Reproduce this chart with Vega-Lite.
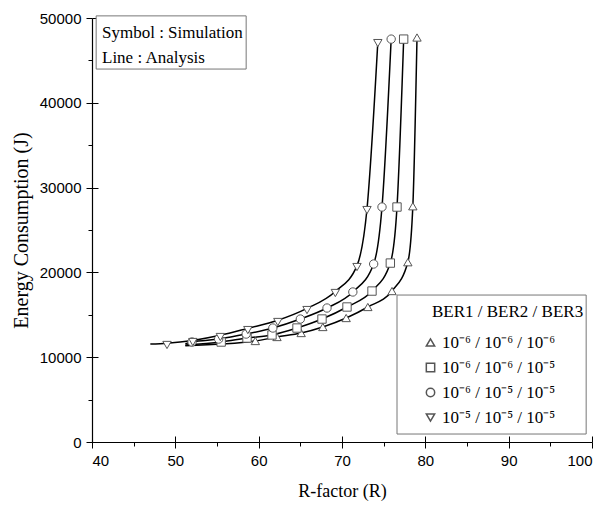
{
  "$schema": "https://vega.github.io/schema/vega-lite/v6.json",
  "width": 500,
  "height": 424,
  "autosize": {"type": "none"},
  "padding": {"left": 92, "top": 18, "right": 14, "bottom": 68},
  "background": "white",
  "config": {
    "view": {"stroke": null},
    "axis": {
      "labelFont": "Liberation Sans",
      "labelFontSize": 15,
      "labelColor": "black",
      "titleFont": "Liberation Serif",
      "titleFontWeight": "normal",
      "titleColor": "black",
      "domainColor": "black",
      "domainWidth": 1.2,
      "tickColor": "black",
      "tickWidth": 1,
      "grid": false
    }
  },
  "datasets": {
    "sim": [
      {"series": "10⁻⁶ / 10⁻⁶ / 10⁻⁶", "R": 59.6, "E": 11910},
      {"series": "10⁻⁶ / 10⁻⁶ / 10⁻⁶", "R": 62.2, "E": 12380},
      {"series": "10⁻⁶ / 10⁻⁶ / 10⁻⁶", "R": 65.1, "E": 12850},
      {"series": "10⁻⁶ / 10⁻⁶ / 10⁻⁶", "R": 67.7, "E": 13560},
      {"series": "10⁻⁶ / 10⁻⁶ / 10⁻⁶", "R": 70.5, "E": 14620},
      {"series": "10⁻⁶ / 10⁻⁶ / 10⁻⁶", "R": 73.1, "E": 15920},
      {"series": "10⁻⁶ / 10⁻⁶ / 10⁻⁶", "R": 76.0, "E": 17800},
      {"series": "10⁻⁶ / 10⁻⁶ / 10⁻⁶", "R": 77.9, "E": 21200},
      {"series": "10⁻⁶ / 10⁻⁶ / 10⁻⁶", "R": 78.5, "E": 27800},
      {"series": "10⁻⁶ / 10⁻⁶ / 10⁻⁶", "R": 79.0, "E": 47700},
      {"series": "10⁻⁶ / 10⁻⁶ / 10⁻⁵", "R": 55.5, "E": 11790},
      {"series": "10⁻⁶ / 10⁻⁶ / 10⁻⁵", "R": 58.6, "E": 12260},
      {"series": "10⁻⁶ / 10⁻⁶ / 10⁻⁵", "R": 61.6, "E": 12620},
      {"series": "10⁻⁶ / 10⁻⁶ / 10⁻⁵", "R": 64.6, "E": 13440},
      {"series": "10⁻⁶ / 10⁻⁶ / 10⁻⁵", "R": 67.6, "E": 14500},
      {"series": "10⁻⁶ / 10⁻⁶ / 10⁻⁵", "R": 70.6, "E": 15920},
      {"series": "10⁻⁶ / 10⁻⁶ / 10⁻⁵", "R": 73.6, "E": 17800},
      {"series": "10⁻⁶ / 10⁻⁶ / 10⁻⁵", "R": 75.8, "E": 21100},
      {"series": "10⁻⁶ / 10⁻⁶ / 10⁻⁵", "R": 76.6, "E": 27710},
      {"series": "10⁻⁶ / 10⁻⁶ / 10⁻⁵", "R": 77.4, "E": 47510},
      {"series": "10⁻⁶ / 10⁻⁵ / 10⁻⁵", "R": 52.0, "E": 11790},
      {"series": "10⁻⁶ / 10⁻⁵ / 10⁻⁵", "R": 55.2, "E": 12140},
      {"series": "10⁻⁶ / 10⁻⁵ / 10⁻⁵", "R": 58.5, "E": 12730},
      {"series": "10⁻⁶ / 10⁻⁵ / 10⁻⁵", "R": 61.7, "E": 13440},
      {"series": "10⁻⁶ / 10⁻⁵ / 10⁻⁵", "R": 65.0, "E": 14500},
      {"series": "10⁻⁶ / 10⁻⁵ / 10⁻⁵", "R": 68.2, "E": 15800},
      {"series": "10⁻⁶ / 10⁻⁵ / 10⁻⁵", "R": 71.3, "E": 17690},
      {"series": "10⁻⁶ / 10⁻⁵ / 10⁻⁵", "R": 73.8, "E": 20990},
      {"series": "10⁻⁶ / 10⁻⁵ / 10⁻⁵", "R": 74.8, "E": 27710},
      {"series": "10⁻⁶ / 10⁻⁵ / 10⁻⁵", "R": 75.9, "E": 47510},
      {"series": "10⁻⁵ / 10⁻⁵ / 10⁻⁵", "R": 49.0, "E": 11440},
      {"series": "10⁻⁵ / 10⁻⁵ / 10⁻⁵", "R": 52.1, "E": 11790},
      {"series": "10⁻⁵ / 10⁻⁵ / 10⁻⁵", "R": 55.4, "E": 12380},
      {"series": "10⁻⁵ / 10⁻⁵ / 10⁻⁵", "R": 58.7, "E": 13200},
      {"series": "10⁻⁵ / 10⁻⁵ / 10⁻⁵", "R": 62.3, "E": 14150},
      {"series": "10⁻⁵ / 10⁻⁵ / 10⁻⁵", "R": 65.8, "E": 15560},
      {"series": "10⁻⁵ / 10⁻⁵ / 10⁻⁵", "R": 69.2, "E": 17570},
      {"series": "10⁻⁵ / 10⁻⁵ / 10⁻⁵", "R": 71.8, "E": 20630},
      {"series": "10⁻⁵ / 10⁻⁵ / 10⁻⁵", "R": 73.0, "E": 27350},
      {"series": "10⁻⁵ / 10⁻⁵ / 10⁻⁵", "R": 74.3, "E": 47040}
    ],
    "ana": [
      {"curve": "A", "R": 51.2, "E": 11350},
      {"curve": "A", "R": 59.6, "E": 11910},
      {"curve": "A", "R": 62.2, "E": 12380},
      {"curve": "A", "R": 65.1, "E": 12850},
      {"curve": "A", "R": 67.7, "E": 13560},
      {"curve": "A", "R": 70.5, "E": 14620},
      {"curve": "A", "R": 73.1, "E": 15920},
      {"curve": "A", "R": 76.0, "E": 17800},
      {"curve": "A", "R": 77.9, "E": 21200},
      {"curve": "A", "R": 78.5, "E": 27800},
      {"curve": "A", "R": 79.0, "E": 47700},
      {"curve": "B", "R": 51.2, "E": 11450},
      {"curve": "B", "R": 55.5, "E": 11790},
      {"curve": "B", "R": 58.6, "E": 12260},
      {"curve": "B", "R": 61.6, "E": 12620},
      {"curve": "B", "R": 64.6, "E": 13440},
      {"curve": "B", "R": 67.6, "E": 14500},
      {"curve": "B", "R": 70.6, "E": 15920},
      {"curve": "B", "R": 73.6, "E": 17800},
      {"curve": "B", "R": 75.8, "E": 21100},
      {"curve": "B", "R": 76.6, "E": 27710},
      {"curve": "B", "R": 77.4, "E": 47510},
      {"curve": "C", "R": 51.2, "E": 11600},
      {"curve": "C", "R": 52.0, "E": 11790},
      {"curve": "C", "R": 55.2, "E": 12140},
      {"curve": "C", "R": 58.5, "E": 12730},
      {"curve": "C", "R": 61.7, "E": 13440},
      {"curve": "C", "R": 65.0, "E": 14500},
      {"curve": "C", "R": 68.2, "E": 15800},
      {"curve": "C", "R": 71.3, "E": 17690},
      {"curve": "C", "R": 73.8, "E": 20990},
      {"curve": "C", "R": 74.8, "E": 27710},
      {"curve": "C", "R": 75.9, "E": 47510},
      {"curve": "D", "R": 47.0, "E": 11550},
      {"curve": "D", "R": 49.0, "E": 11650},
      {"curve": "D", "R": 52.1, "E": 11980},
      {"curve": "D", "R": 55.4, "E": 12580},
      {"curve": "D", "R": 58.7, "E": 13400},
      {"curve": "D", "R": 62.3, "E": 14350},
      {"curve": "D", "R": 65.8, "E": 15750},
      {"curve": "D", "R": 69.2, "E": 17750},
      {"curve": "D", "R": 71.8, "E": 20800},
      {"curve": "D", "R": 73.0, "E": 27500},
      {"curve": "D", "R": 74.3, "E": 47200}
    ]
  },
  "layer": [
    {
      "data": {"name": "ana"},
      "mark": {"type": "line", "color": "black", "strokeWidth": 1.5, "interpolate": "monotone"},
      "encoding": {
        "x": {
          "field": "R", "type": "quantitative",
          "scale": {"domain": [40, 100], "nice": false, "zero": false},
          "axis": {
            "orient": "bottom",
            "title": "R-factor (R)",
            "titleFontSize": 18,
            "titlePadding": 14,
            "values": [40, 45, 50, 55, 60, 65, 70, 75, 80, 85, 90, 95, 100],
            "labelExpr": "datum.value % 10 === 0 ? datum.label : ''",
            "tickSize": {"condition": {"test": "datum.value % 10 === 0", "value": 6}, "value": 4},
            "labelPadding": 5
          }
        },
        "y": {
          "field": "E", "type": "quantitative",
          "scale": {"domain": [0, 50000], "nice": false},
          "axis": {
            "orient": "left",
            "title": "Energy Consumption (J)",
            "titleFontSize": 20,
            "titlePadding": 8,
            "values": [0, 5000, 10000, 15000, 20000, 25000, 30000, 35000, 40000, 45000, 50000],
            "labelExpr": "datum.value % 10000 === 0 ? datum.label : ''",
            "format": "d",
            "tickSize": {"condition": {"test": "datum.value % 10000 === 0", "value": 6}, "value": 4},
            "labelPadding": 5
          }
        },
        "detail": {"field": "curve"}
      }
    },
    {
      "data": {"name": "sim"},
      "mark": {"type": "point", "filled": true, "fill": "white", "stroke": "#555", "strokeWidth": 1, "size": 70, "opacity": 1},
      "encoding": {
        "x": {
          "field": "R", "type": "quantitative",
          "axis": {"orient": "bottom", "values": [40, 50, 60, 70, 80, 90, 100], "tickSize": -6, "labels": false, "domain": false, "title": null}
        },
        "y": {
          "field": "E", "type": "quantitative",
          "axis": {"orient": "left", "values": [0, 10000, 20000, 30000, 40000, 50000], "tickSize": -6, "labels": false, "domain": false, "title": null}
        },
        "shape": {
          "field": "series", "type": "nominal",
          "scale": {
            "domain": ["10⁻⁶ / 10⁻⁶ / 10⁻⁶", "10⁻⁶ / 10⁻⁶ / 10⁻⁵", "10⁻⁶ / 10⁻⁵ / 10⁻⁵", "10⁻⁵ / 10⁻⁵ / 10⁻⁵"],
            "range": ["triangle-up", "square", "circle", "triangle-down"]
          },
          "legend": {
            "orient": "none",
            "legendX": 340,
            "legendY": 286,
            "title": "BER1 / BER2 / BER3",
            "titleFont": "Liberation Serif",
            "titleFontSize": 17,
            "titleFontWeight": "normal",
            "titleColor": "black",
            "titlePadding": 13,
            "labelFont": "Liberation Serif",
            "labelFontSize": 17,
            "labelColor": "black",
            "symbolOffset": -10,
            "labelOffset": 3,
            "symbolSize": 70,
            "rowPadding": 7,
            "padding": 0,
            "encode": {
              "symbols": {
                "update": {
                  "fill": {"value": "white"},
                  "stroke": {"value": "#555"},
                  "strokeWidth": {"value": 1},
                  "opacity": {"value": 1}
                }
              }
            }
          }
        }
      }
    },
    {
      "data": {"values": [{}]},
      "mark": {"type": "rect", "fill": "white", "fillOpacity": 0, "stroke": "#777", "strokeWidth": 1},
      "encoding": {
        "x": {"datum": 76.6, "type": "quantitative", "axis": null},
        "x2": {"datum": 99.3},
        "y": {"datum": 17330, "type": "quantitative", "axis": null},
        "y2": {"datum": 940}
      }
    },
    {
      "data": {"values": [{}]},
      "mark": {"type": "rect", "fill": "white", "stroke": "#777", "strokeWidth": 1},
      "encoding": {
        "x": {"datum": 40.5, "type": "quantitative", "axis": null},
        "x2": {"datum": 58.5},
        "y": {"datum": 50250, "type": "quantitative", "axis": null},
        "y2": {"datum": 43980}
      }
    },
    {
      "data": {"values": [{}]},
      "mark": {"type": "text", "align": "left", "baseline": "alphabetic", "font": "Liberation Serif", "fontSize": 17, "color": "black"},
      "encoding": {
        "x": {"datum": 41.2, "type": "quantitative", "axis": null},
        "y": {"datum": 47630, "type": "quantitative", "axis": null},
        "text": {"value": "Symbol : Simulation"}
      }
    },
    {
      "data": {"values": [{}]},
      "mark": {"type": "text", "align": "left", "baseline": "alphabetic", "font": "Liberation Serif", "fontSize": 17, "color": "black"},
      "encoding": {
        "x": {"datum": 41.2, "type": "quantitative", "axis": null},
        "y": {"datum": 44650, "type": "quantitative", "axis": null},
        "text": {"value": "Line : Analysis"}
      }
    }
  ],
  "resolve": {"axis": {"x": "independent", "y": "independent"}}
}
